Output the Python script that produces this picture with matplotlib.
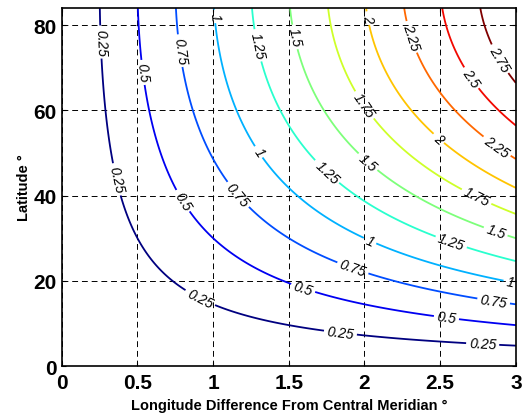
import numpy as np
import matplotlib.pyplot as plt

# grid convergence (deg) = longitude difference * sin(latitude)
lon_diff = np.linspace(0, 3, 301)
latitude = np.linspace(0, 84, 337)
levels = [0.25, 0.5, 0.75, 1, 1.25, 1.5, 1.75, 2, 2.25, 2.5, 2.75]
x_ticks = [0, 0.5, 1, 1.5, 2, 2.5, 3]
y_ticks = [0, 20, 40, 60, 80]

# approximate spots where the reference puts its contour labels
label_spots = [
    (0.23, 76), (0.35, 43.7), (0.91, 15.7), (1.84, 7.5), (2.78, 4.7),
    (0.515, 68.8), (0.81, 39), (1.59, 17.8), (2.54, 11),
    (0.78, 74), (1.14, 39.5), (1.92, 22.7), (2.85, 14.5),
    (0.99, 82), (1.29, 50), (2.04, 29.7), (2.96, 19.2),
    (1.26, 75), (1.72, 44.4), (2.56, 27.8),
    (1.51, 77), (2.0, 47), (2.86, 30.9),
    (1.98, 60.8), (2.73, 39),
    (2.0, 81.5), (2.48, 53),
    (2.29, 77), (2.86, 50.8),
    (2.68, 67),
    (2.88, 71.8),
]

plt.rcParams['font.family'] = ['Liberation Sans', 'DejaVu Sans']

X, Y = np.meshgrid(lon_diff, latitude)
Z = X * np.sin(np.radians(Y))

fig = plt.figure(figsize=(5.28, 4.14), dpi=100)
ax = fig.add_axes([0.117, 0.1135, 0.86, 0.8645])

cs = ax.contour(X, Y, Z, levels=levels, cmap='jet', linewidths=1.3)
lbls = ax.clabel(cs, levels, inline=True, fontsize=10, fmt='%g',
                 inline_spacing=3, manual=label_spots)
for t in lbls:
    t.set_fontstyle('italic')
    t.set_color('black')

ax.set_xlim(0, 3)
ax.set_ylim(0, 84)
ax.set_xticks(x_ticks)
ax.set_xticklabels(['%g' % v for v in x_ticks])
ax.set_yticks(y_ticks)
ax.tick_params(labelsize=15, length=3, direction='in', top=True, right=True)
ax.tick_params(axis='x', pad=5)
for t in ax.get_xticklabels() + ax.get_yticklabels():
    t.set_fontweight('bold')
ax.grid(True, color='black', linestyle=(0, (6, 4)), linewidth=0.7)
for s in ax.spines.values():
    s.set_linewidth(1.2)

ax.set_xlabel('Longitude Difference From Central Meridian °', fontsize=10.5,
              fontweight='bold', labelpad=4)
ax.set_ylabel('Latitude °', fontsize=10.5, fontweight='bold', labelpad=2)

fig.savefig('out.png', dpi=100)
